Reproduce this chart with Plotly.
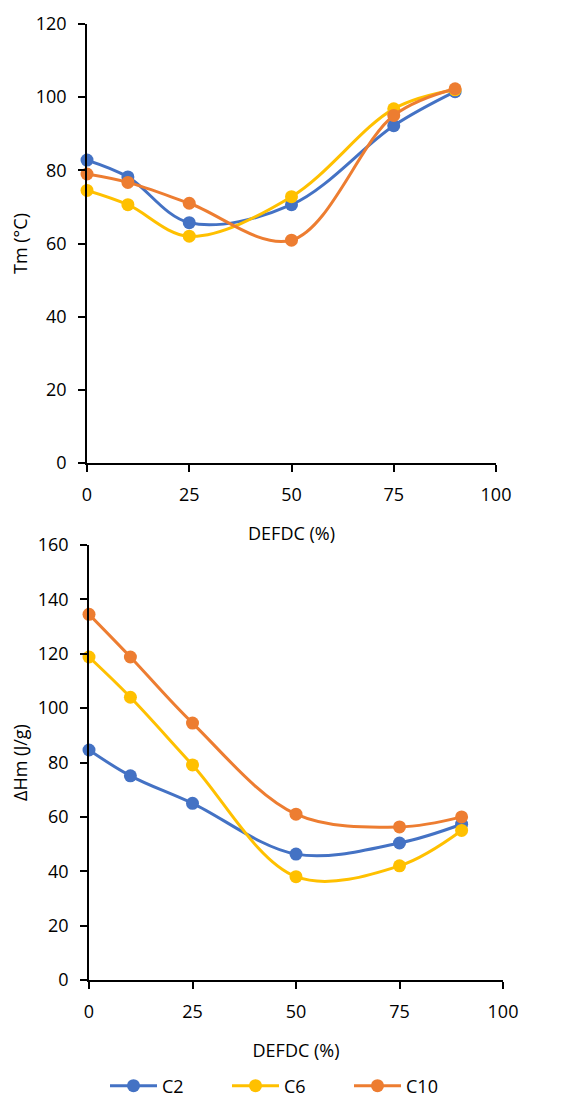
import plotly.graph_objects as go

defdc = [0, 10, 25, 50, 75, 90]
series_names = ["C2", "C6", "C10"]
colors = ["#4472C4", "#FFC000", "#ED7D31"]

tm_c2 = [82.8, 78.2, 65.7, 70.6, 92.2, 101.5]
tm_c6 = [74.5, 70.6, 62.0, 72.8, 96.8, 102.0]
tm_c10 = [79.0, 76.7, 71.0, 60.9, 95.0, 102.3]

dh_c2 = [84.6, 75.1, 65.0, 46.3, 50.4, 57.3]
dh_c6 = [118.8, 104.0, 79.1, 38.0, 42.0, 55.0]
dh_c10 = [134.5, 118.8, 94.5, 61.0, 56.3, 60.0]

tm_series = [tm_c2, tm_c6, tm_c10]
dh_series = [dh_c2, dh_c6, dh_c10]

W, H = 581, 1106
OFF = 8  # page body margin
FW, FH = W - 2 * OFF, H - 2 * OFF
FONT = "Open Sans"

fig = go.Figure()

for name, col, ys in zip(series_names, colors, tm_series):
    fig.add_trace(go.Scatter(
        x=defdc, y=ys, name=name, mode="lines+markers",
        line=dict(color=col, width=3, shape="spline", smoothing=1.0),
        marker=dict(color=col, size=13),
        xaxis="x", yaxis="y", showlegend=False, cliponaxis=False))

for name, col, ys in zip(series_names, colors, dh_series):
    fig.add_trace(go.Scatter(
        x=defdc, y=ys, name=name, mode="lines+markers",
        line=dict(color=col, width=3, shape="spline", smoothing=1.0),
        marker=dict(color=col, size=13),
        xaxis="x2", yaxis="y2", showlegend=True, cliponaxis=False))

def px_x(p):
    return (p - OFF) / FW

def px_y(p):
    return 1 - (p - OFF) / FH

axis_common = dict(
    showgrid=False, zeroline=False, showline=True, linecolor="black",
    linewidth=1.5, ticks="outside", ticklen=7, tickwidth=1.5,
    tickcolor="black", tickfont=dict(family=FONT, size=18, color="black"),
    ticklabelstandoff=8,
)

fig.update_layout(
    width=FW, height=FH,
    margin=dict(l=0, r=0, t=0, b=0, autoexpand=False),
    paper_bgcolor="white", plot_bgcolor="white",
    font=dict(family=FONT, color="black"),
    xaxis=dict(domain=[px_x(87), px_x(496)], anchor="y", range=[0, 100],
               tickvals=[0, 25, 50, 75, 100], automargin=False,
               title=dict(text="DEFDC (%)", font=dict(family=FONT, size=18), standoff=22),
               **axis_common),
    yaxis=dict(domain=[px_y(463), px_y(24)], anchor="x", range=[0, 120],
               tickvals=[0, 20, 40, 60, 80, 100, 120], automargin=True,
               title=dict(text="Tm (°C)", font=dict(family=FONT, size=18), standoff=10),
               **axis_common),
    xaxis2=dict(domain=[px_x(89), px_x(503)], anchor="y2", range=[0, 100],
                tickvals=[0, 25, 50, 75, 100], automargin=False,
                title=dict(text="DEFDC (%)", font=dict(family=FONT, size=18), standoff=22),
                **axis_common),
    yaxis2=dict(domain=[px_y(980), px_y(545)], anchor="x2", range=[0, 160],
                tickvals=[0, 20, 40, 60, 80, 100, 120, 140, 160], automargin=True,
                title=dict(text="ΔHm (J/g)", font=dict(family=FONT, size=18), standoff=10),
                **axis_common),
    legend=dict(orientation="h", x=px_x(105), xanchor="left", y=px_y(1086), yanchor="middle",
                font=dict(family=FONT, size=18, color="black"),
                itemwidth=47, entrywidth=60, bgcolor="rgba(0,0,0,0)"),
)

fig.write_html("out.html")
